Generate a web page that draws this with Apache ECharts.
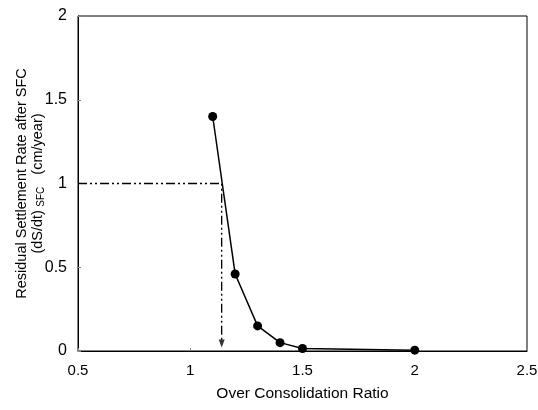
<!DOCTYPE html>
<html><head><meta charset="utf-8">
<script src="https://cdn.jsdelivr.net/npm/echarts@6/dist/echarts.min.js"></script>
<style>html,body{margin:0;padding:0;background:#fff}#c{width:538px;height:410px}</style>
</head><body><div id="c"></div>
<script>
var ocr = [1.1, 1.2, 1.3, 1.4, 1.5, 2.0];
var rate = [1.40, 0.46, 0.15, 0.05, 0.015, 0.005];
var guideX = [0.5, 1.14, 1.14];
var guideY = [1.0, 1.0, 0.06];
var arrowTip = [1.14, 0.045];
var xTicks = [0.5, 1, 1.5, 2, 2.5];
var yTicks = [0, 0.5, 1, 1.5, 2];

var F = '"Liberation Sans", Arial, sans-serif';
var chart = echarts.init(document.getElementById('c'));
chart.setOption({
  animation: false,
  backgroundColor: '#fff',
  grid: { left: 78, right: 11, top: 16, bottom: 59, show: true, borderColor: '#000', borderWidth: 1,
          containLabel: false, outerBoundsMode: 'none' },
  xAxis: {
    type: 'value', min: 0.5, max: 2.5, interval: 0.5,
    name: 'Over Consolidation Ratio', nameLocation: 'middle', nameGap: 35,
    nameTextStyle: { fontFamily: F, fontSize: 15.5, color: '#000' },
    axisLine: { show: true, lineStyle: { color: '#000' } },
    axisTick: { show: true, inside: true, length: 3, lineStyle: { color: '#888' } },
    splitLine: { show: false },
    axisLabel: { fontFamily: F, fontSize: 15, color: '#000', margin: 12,
      formatter: function (v) { return xTicks.indexOf(v) >= 0 ? String(v) : ''; } }
  },
  yAxis: {
    type: 'value', min: 0, max: 2, interval: 0.5,
    name: '{a|Residual Settlement Rate after SFC}\n{a|(dS/dt)} {s|SFC}{a|   (cm/year)}',
    nameLocation: 'middle', nameGap: 32, nameRotate: 90, nameMoveOverlap: false,
    nameTextStyle: { fontFamily: F, color: '#000', lineHeight: 16,
      rich: { a: { fontFamily: F, fontSize: 14.5, color: '#000', lineHeight: 16 },
              s: { fontFamily: F, fontSize: 10, color: '#000', lineHeight: 16, verticalAlign: 'bottom' } } },
    axisLine: { show: true, lineStyle: { color: '#000' } },
    axisTick: { show: true, inside: true, length: 3, lineStyle: { color: '#888' } },
    splitLine: { show: false },
    axisLabel: { fontFamily: F, fontSize: 16, color: '#000', margin: 11,
      formatter: function (v) { return yTicks.indexOf(v) >= 0 ? String(v) : ''; } }
  },
  series: [
    {
      type: 'line',
      data: guideX.map(function (x, i) { return [x, guideY[i]]; }),
      symbol: 'none',
      lineStyle: { color: '#000', width: 1.3, type: [9, 3, 2, 3, 2, 3] },
      z: 2
    },
    {
      type: 'scatter',
      data: [arrowTip],
      symbol: 'triangle', symbolRotate: 180, symbolSize: [6, 8],
      itemStyle: { color: '#000' },
      z: 2
    },
    {
      type: 'line',
      data: ocr.map(function (x, i) { return [x, rate[i]]; }),
      symbol: 'circle', symbolSize: 9,
      itemStyle: { color: '#000' },
      lineStyle: { color: '#000', width: 1.5 },
      z: 3
    }
  ]
});
</script></body></html>
